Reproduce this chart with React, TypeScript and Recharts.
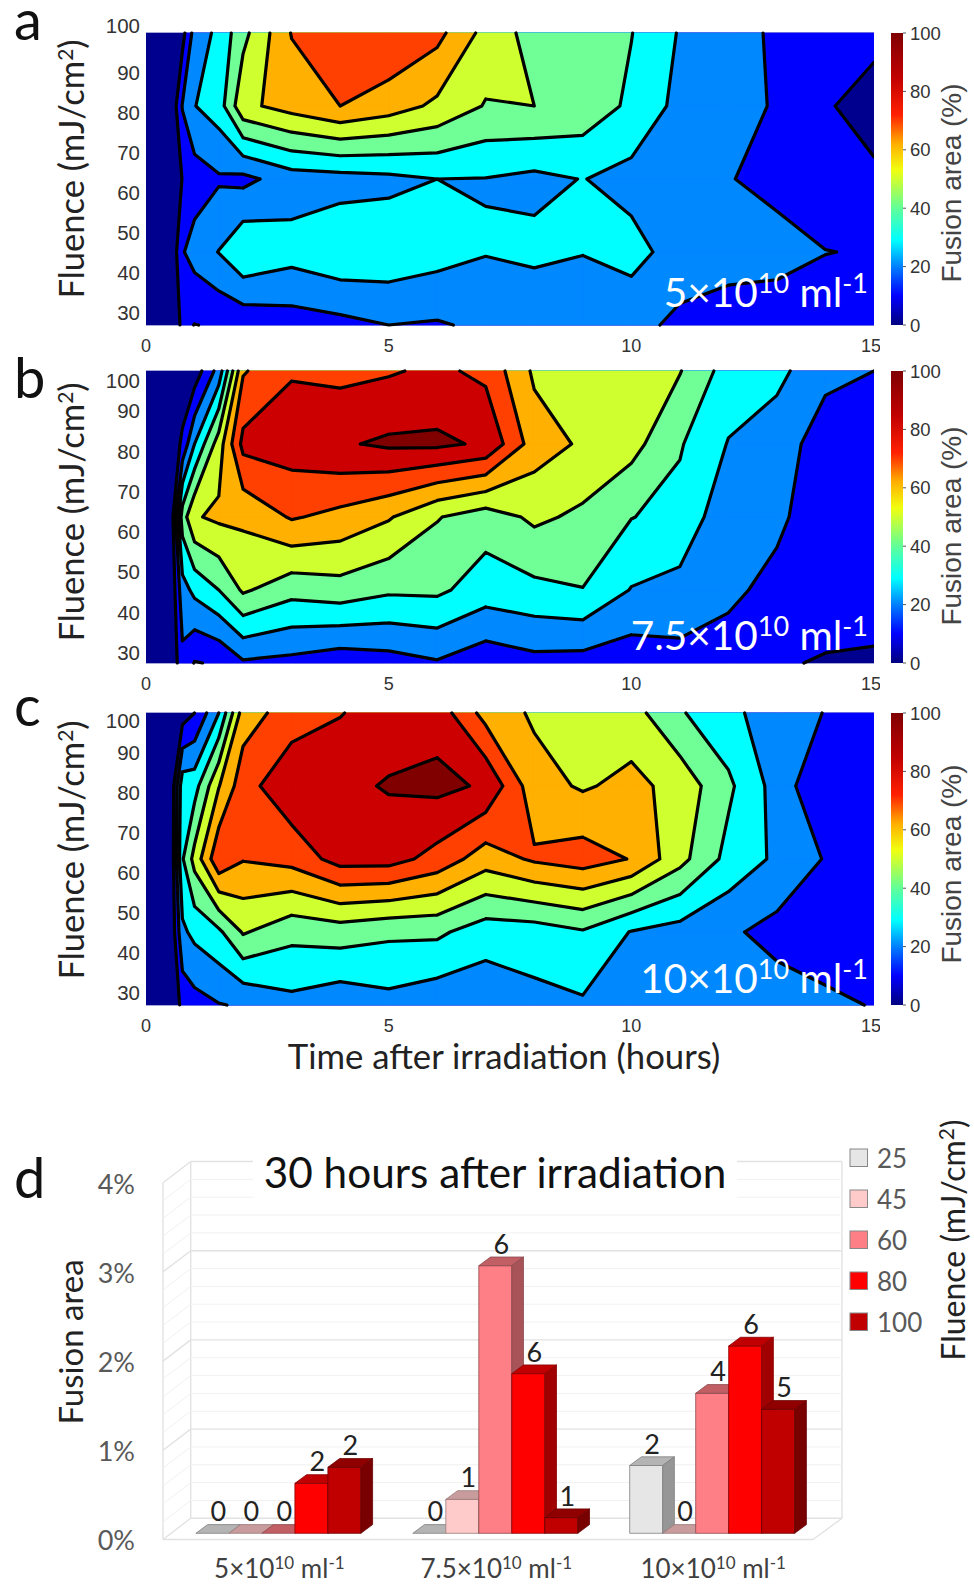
import { Bar, BarChart, CartesianGrid, LabelList, Scatter, ScatterChart, XAxis, YAxis } from "recharts";

// hours after irradiation, one column per measurement
const times = [0, 0.5, 0.75, 1, 1.5, 2, 3, 4, 5, 6, 7, 8, 9, 10, 11, 12, 13, 14, 15];
const timeTicks = [0, 5, 10, 15];
const fluenceTicks = [30, 40, 50, 60, 70, 80, 90, 100];
const fusionTicks = [0, 20, 40, 60, 80, 100];

// rows are 25, 45, 60, 80, 100 mJ/cm2, evenly spaced on the plot
const panelA = [
  [0, 0, 12.5, 9.8, 11, 12.5, 15, 17, 20, 19, 22, 21, 22, 23.6, 17.5, 14, 13.8, 12, 12],
  [0, 0, 19.2, 24, 30.3, 39.2, 34, 38, 37, 34, 30.5, 32.5, 30.4, 33.2, 26, 25, 23.8, 20.3, 19],
  [0, 0, 10.4, 15, 18.8, 17.3, 25, 26, 27.5, 30, 29.7, 27.5, 30.3, 26.7, 24, 20.5, 17, 11, 11.3],
  [0, 0, 20.6, 29.7, 35, 57.5, 64, 70, 65, 57.9, 49.3, 50, 46.5, 38, 27, 24, 19, 10.75, 7],
  [0, 0, 6.4, 24, 32.6, 47, 70.5, 78, 79, 73, 56.6, 46, 44, 40.3, 29.2, 25, 18, 15, 12],
];
const panelB = [
  [0, 0, 17.4, 9.5, 11, 18.6, 17, 13.5, 15.7, 19, 13.5, 16.8, 16, 14, 16.5, 17.8, 11, 9.2, 9.1],
  [0, 0, 26, 32.6, 40, 51.5, 43.5, 45.8, 41.7, 42, 35, 37.4, 39.7, 29.5, 26.8, 21, 18.6, 15, 13],
  [0, 0, 45, 59, 62, 62, 71, 67, 61, 50.6, 44.7, 52, 48, 40.3, 36.8, 23.2, 21, 17, 12],
  [0, 0, 12.5, 30, 55, 83, 85, 88.8, 91.7, 92, 88.5, 65, 58.5, 53.5, 40.9, 29.5, 24, 16, 12],
  [0, 0, 1, 4, 24, 69, 79.2, 77.3, 79, 82, 77.7, 58.3, 57, 54, 50.5, 35.5, 33, 22, 20],
];
const panelC = [
  [0, 0, 13, 16, 19.5, 21, 27, 23, 26.6, 23, 23, 27, 28.6, 25, 24, 24, 24.8, 21, 19.75],
  [0, 0, 28, 32.7, 38, 51, 43, 44.8, 42, 42, 34.5, 35, 39, 29.5, 26, 21.6, 16.8, 17.3, 15],
  [0, 0, 39, 53.5, 78, 70.6, 73.5, 84, 84, 76.4, 64.7, 71.5, 74.8, 69.5, 53.3, 36.8, 28.2, 19.3, 15],
  [0, 0, 36, 36, 59.5, 76, 87.4, 87.6, 90.8, 92.6, 88.7, 64, 58.8, 63, 56.3, 42, 26, 10.5, 12],
  [0, 0, 5, 10, 30, 65, 75, 79.5, 85, 85.9, 66.3, 58.5, 55, 54, 41, 33, 24, 19.7, 15],
];

const levels = [-1, 10, 20, 30, 40, 50, 60, 70, 80, 90];
const bandColors = ["#00008f", "#0000ff", "#0088ff", "#00ffff", "#70ff96", "#d0ff30", "#ffb000", "#ff4000", "#cc0000", "#800000"];

const jetStops = [
  [0, "#00007f"], [10, "#0000ff"], [20, "#0080ff"], [29, "#00ffff"], [40, "#60ff98"],
  [53, "#f0ff10"], [62, "#ffb000"], [72, "#ff2000"], [85, "#c00000"], [100, "#800000"],
] as [number, string][];

// bar chart, 30 hours after irradiation
const categories = ["5", "7.5", "10"];
const fluenceSeries = ["25", "45", "60", "80", "100"];
const area25 = [0, 0, 0.76];
const area45 = [0, 0.38, 0];
const area60 = [0, 3.0, 1.57];
const area80 = [0.56, 1.79, 2.1];
const area100 = [0.74, 0.176, 1.39];
const count25 = [0, 0, 2];
const count45 = [0, 1, 0];
const count60 = [0, 6, 4];
const count80 = [2, 6, 6];
const count100 = [2, 1, 5];
const gridValues = [0, 0.2, 0.4, 0.6, 0.8, 1, 1.2, 1.4, 1.6, 1.8, 2, 2.2, 2.4, 2.6, 2.8, 3, 3.2, 3.4, 3.6, 3.8, 4];

const barData = categories.map((c, i) => ({
  name: c,
  a25: area25[i], a45: area45[i], a60: area60[i], a80: area80[i], a100: area100[i],
  n25: count25[i], n45: count45[i], n60: count60[i], n80: count80[i], n100: count100[i],
}));

const barColors: Record<string, { front: string; top: string; side: string; edge: string }> = {
  "25": { front: "#e6e6e6", top: "#b4b4b4", side: "#969696", edge: "#808080" },
  "45": { front: "#ffcaca", top: "#c89c9c", side: "#a08080", edge: "#9a7a7a" },
  "60": { front: "#ff7f86", top: "#c25f64", side: "#a85358", edge: "#8a4a4e" },
  "80": { front: "#ff0000", top: "#c00000", side: "#a00000", edge: "#8a0000" },
  "100": { front: "#c00000", top: "#900000", side: "#780000", edge: "#6a0000" },
};

type Pt = { x: number; y: number };

// filled region >= level and contour segments, cell by cell
function contourCells(grid: number[][], level: number) {
  const pts: Pt[] = [];
  const sizes: number[] = [];
  const segs: Pt[] = [];
  for (let r = 0; r < grid.length - 1; r++) {
    for (let c = 0; c < times.length - 1; c++) {
      const corners = [
        { x: times[c], y: r, v: grid[r][c] },
        { x: times[c + 1], y: r, v: grid[r][c + 1] },
        { x: times[c + 1], y: r + 1, v: grid[r + 1][c + 1] },
        { x: times[c], y: r + 1, v: grid[r + 1][c] },
      ];
      const poly: Pt[] = [];
      const cross: Pt[] = [];
      corners.forEach((a, k) => {
        const b = corners[(k + 1) % 4];
        if (a.v >= level) poly.push({ x: a.x, y: a.y });
        if (a.v >= level !== b.v >= level) {
          const t = (level - a.v) / (b.v - a.v);
          const p = { x: a.x + (b.x - a.x) * t, y: a.y + (b.y - a.y) * t };
          poly.push(p);
          cross.push(p);
        }
      });
      if (poly.length === 0) continue;
      if (cross.length === 4) {
        const mean = (corners[0].v + corners[1].v + corners[2].v + corners[3].v) / 4;
        const cornerHigh = corners[0].v >= level ? 0 : 1;
        if (mean >= level) {
          pts.push(...poly);
          sizes.push(poly.length);
          if (cornerHigh === 0) segs.push(cross[0], cross[1], cross[2], cross[3]);
          else segs.push(cross[1], cross[2], cross[3], cross[0]);
        } else {
          // two separate corners
          const first = poly.slice(0, 3);
          const second = poly.slice(3);
          if (cornerHigh === 0) {
            pts.push(poly[0], poly[1], poly[5], poly[2], poly[3], poly[4]);
            sizes.push(3, 3);
            segs.push(cross[0], cross[3], cross[1], cross[2]);
          } else {
            pts.push(...first, ...second);
            sizes.push(3, 3);
            segs.push(cross[0], cross[1], cross[2], cross[3]);
          }
        }
      } else {
        pts.push(...poly);
        sizes.push(poly.length);
        if (cross.length === 2) segs.push(cross[0], cross[1]);
      }
    }
  }
  return { pts, sizes, segs };
}

const noDot = () => <g />;

function bandLine(sizes: number[], color: string) {
  return (props: any) => {
    const p: Pt[] = props.points;
    let d = "";
    let at = 0;
    sizes.forEach((n) => {
      d += "M" + p.slice(at, at + n).map((q) => `${q.x} ${q.y}`).join("L") + "Z";
      at += n;
    });
    return <path d={d} fill={color} stroke={color} strokeWidth={0.7} />;
  };
}

function contourLine(props: any) {
  const p: Pt[] = props.points;
  let d = "";
  for (let i = 0; i + 1 < p.length; i += 2) d += `M${p[i].x} ${p[i].y}L${p[i + 1].x} ${p[i + 1].y}`;
  return <path d={d} fill="none" stroke="#000" strokeWidth={3.2} strokeLinecap="round" />;
}

function ContourPanel({ grid, top, lo, shift100 }: { grid: number[][]; top: number; lo: number; shift100: number }) {
  const cells = levels.map((l) => contourCells(grid, l));
  const segs = cells.flatMap((c, i) => (i === 0 ? [] : c.segs));
  const fluenceTick = (p: any) => {
    const v = p.payload.value;
    return (
      <text x={p.x + 2} y={p.y + (v === 100 ? shift100 : 0)} dy={7} textAnchor="end" fontFamily="Liberation Sans" fontSize={20.5} fill="#333">
        {v}
      </text>
    );
  };
  return (
    <div style={{ position: "absolute", left: 0, top: top - 25 }}>
      <ScatterChart width={880} height={359} margin={{ top: 25, right: 6, bottom: 2, left: 96 }}>
        <XAxis
          type="number" dataKey="x" domain={[0, 15]} ticks={timeTicks} allowDataOverflow
          axisLine={false} tickLine={false} tickMargin={8} height={40}
          tick={{ fontFamily: "Liberation Sans", fontSize: 18, fill: "#333" }}
        />
        <YAxis yAxisId="grid" type="number" dataKey="y" domain={[0, 4]} hide />
        <YAxis
          yAxisId="fluence" type="number" dataKey="y" domain={[lo, 100]} ticks={fluenceTicks} interval={0} width={50}
          axisLine={false} tickLine={false} tick={fluenceTick}
        />
        {cells.map((c, i) => (
          <Scatter
            key={i} yAxisId="grid" data={c.pts} isAnimationActive={false}
            shape={noDot} line={bandLine(c.sizes, bandColors[i])}
          />
        ))}
        <Scatter yAxisId="grid" data={segs} isAnimationActive={false} shape={noDot} line={contourLine} />
        <Scatter yAxisId="fluence" data={fluenceTicks.map((t) => ({ x: 0, y: t }))} isAnimationActive={false} shape={noDot} />
      </ScatterChart>
    </div>
  );
}

function ColorBar({ id, top }: { id: string; top: number }) {
  return (
    <div style={{ position: "absolute", left: 891, top: top - 13 }}>
      <BarChart width={83} height={318} data={[{ v: 100 }]} margin={{ top: 13, right: 0, bottom: 13, left: 0 }} barCategoryGap={0}>
        <defs>
          <linearGradient id={id} x1="0" y1="1" x2="0" y2="0">
            {jetStops.map(([o, c]) => (
              <stop key={o} offset={`${o}%`} stopColor={c} />
            ))}
          </linearGradient>
        </defs>
        <XAxis hide />
        <YAxis
          orientation="right" domain={[0, 100]} ticks={fusionTicks} interval={0} width={71}
          axisLine={false} tickSize={3} tickLine={{ stroke: "#555" }} tickMargin={4}
          tick={{ fontFamily: "Liberation Sans", fontSize: 18.5, fill: "#333", textAnchor: "start" }}
        />
        <Bar dataKey="v" fill={`url(#${id})`} isAnimationActive={false} />
      </BarChart>
    </div>
  );
}

function Bar3D(props: any) {
  const { x, y, width, height, colors } = props;
  const dx = 11.7;
  const dy = 8.7;
  const c = colors;
  return (
    <g stroke={c.edge} strokeWidth={0.8} strokeLinejoin="round">
      {height > 0.5 && <rect x={x} y={y} width={width} height={height} fill={c.front} />}
      <path d={`M${x} ${y}l${dx} ${-dy}h${width}l${-dx} ${dy}Z`} fill={c.top} />
      {height > 0.5 && <path d={`M${x + width} ${y}l${dx} ${-dy}v${height}l${-dx} ${dy}Z`} fill={c.side} />}
    </g>
  );
}

const countLabel = (p: any) => (
  <text x={p.x + p.width / 2 + 6} y={p.y - 12} textAnchor="middle" fontFamily="Lato" fontSize={27} fill="#222">
    {p.value}
  </text>
);

function wallLine(p: any) {
  const major = p.index % 5 === 0;
  const color = major ? "#e2e2e2" : "#f1f1f1";
  const isFloor = Math.abs(p.y1 - 433.3) < 1;
  return (
    <g key={p.key}>
      <line x1={p.x1 + 19.8} y1={p.y1 - 15} x2={p.x2 + 20.4} y2={p.y1 - 15} stroke={color} strokeWidth={major ? 1.4 : 1} />
      <line x1={p.x1 - 7.9} y1={p.y1 + 6.2} x2={p.x1 + 19.8} y2={p.y1 - 15} stroke={color} strokeWidth={major ? 1.4 : 1} />
      {isFloor && (
        <g stroke="#e2e2e2" strokeWidth={1.4}>
          <line x1={p.x1 - 7.9} y1={p.y1 + 6.2} x2={p.x2 - 8.6} y2={p.y1 + 6.2} />
          <line x1={p.x2 - 8.6} y1={p.y1 + 6.2} x2={p.x2 + 20.4} y2={p.y1 - 15} />
          <line x1={p.x1 - 7.9} y1={p.y1 + 6.2} x2={p.x1 - 7.9} y2={p.y1 - 350.6} />
          <line x1={p.x1 + 19.8} y1={p.y1 - 15} x2={p.x1 + 19.8} y2={p.y1 - 371.8} />
          <line x1={p.x2 + 20.4} y1={p.y1 - 15} x2={p.x2 + 20.4} y2={p.y1 - 371.8} />
        </g>
      )}
    </g>
  );
}

const percentTick = (p: any) => {
  const v = p.payload.value;
  if (!Number.isInteger(v)) return <g />;
  return (
    <text x={135} y={p.y + 17} textAnchor="end" fontFamily="Lato" fontSize={27} fill="#595959">
      {v}%
    </text>
  );
};

const categoryTick = (p: any) => (
  <text x={p.x} y={p.y + 37} textAnchor="middle" fontFamily="Lato" fontSize={26} fill="#404040">
    {p.payload.value}×10
    <tspan dy={-9} fontSize={17}>10</tspan>
    <tspan dy={9}> ml</tspan>
    <tspan dy={-9} fontSize={17}>-1</tspan>
  </text>
);

function FusionBars() {
  return (
    <div style={{ position: "absolute", left: 0, top: 1100 }}>
      <BarChart
        width={974} height={485} data={barData}
        margin={{ top: 76.5, right: 152.4, bottom: 11.7, left: 110.9 }}
        barCategoryGap={25} barGap={0}
      >
        <CartesianGrid vertical={false} horizontal={wallLine} />
        <XAxis dataKey="name" height={40} axisLine={false} tickLine={false} tick={categoryTick} interval={0} />
        <YAxis domain={[0, 4]} ticks={gridValues} interval={0} width={60} axisLine={false} tickLine={false} tick={percentTick} />
        {fluenceSeries.map((s) => (
          <Bar
            key={s} dataKey={`a${s}`} isAnimationActive={false}
            shape={(p: any) => <Bar3D {...p} colors={barColors[s]} />}
          >
            <LabelList dataKey={`n${s}`} content={countLabel} />
          </Bar>
        ))}
      </BarChart>
    </div>
  );
}

const calibri = "Lato";

function Rotated({ x, y, size, family, fill, children }: any) {
  return (
    <text x={x} y={y} transform={`rotate(-90 ${x} ${y})`} textAnchor="middle" fontFamily={family} fontSize={size} fill={fill}>
      {children}
    </text>
  );
}

const fluenceTitle = (
  <>
    Fluence (mJ/cm<tspan dy={-11} fontSize={21}>2</tspan>
    <tspan dy={11}>)</tspan>
  </>
);

function Overlay() {
  const panels = [
    { letter: "a", letterY: 40, label: "5×10", labelY: 307, mid: 169 },
    { letter: "b", letterY: 398, label: "7.5×10", labelY: 650, mid: 512 },
    { letter: "c", letterY: 726, label: "10×10", labelY: 993, mid: 850 },
  ];
  return (
    <svg width={974} height={1585} style={{ position: "absolute", left: 0, top: 0, pointerEvents: "none" }}>
      {panels.map((p) => (
        <g key={p.letter}>
          <text x={14} y={p.letterY} fontFamily={calibri} fontSize={56} fill="#111">{p.letter}</text>
          <text x={868} y={p.labelY} textAnchor="end" fontFamily={calibri} fontSize={40.5} fill="#fff">
            {p.label}
            <tspan dy={-14} fontSize={27}>10</tspan>
            <tspan dy={14}> ml</tspan>
            <tspan dy={-14} fontSize={27}>-1</tspan>
          </text>
          <Rotated x={84} y={p.mid} size={34.5} family={calibri} fill="#222">{fluenceTitle}</Rotated>
          <Rotated x={961} y={p.mid + 14} size={28} family="Liberation Sans" fill="#444">Fusion area (%)</Rotated>
        </g>
      ))}
      <text x={504} y={1069} textAnchor="middle" fontFamily={calibri} fontSize={34.7} fill="#222">Time after irradiation (hours)</text>
      <text x={14} y={1198} fontFamily={calibri} fontSize={56} fill="#111">d</text>
      <rect x={253} y={1150} width={484} height={50} fill="#fff" />
      <text x={495} y={1188} textAnchor="middle" fontFamily={calibri} fontSize={42.3} fill="#111">30 hours after irradiation</text>
      <Rotated x={83} y={1342} size={33} family={calibri} fill="#222">Fusion area</Rotated>
      <Rotated x={965} y={1240} size={32} family={calibri} fill="#222">{fluenceTitle}</Rotated>
      {fluenceSeries.map((s, i) => (
        <g key={s}>
          <rect x={850} y={1149 + i * 41} width={17.5} height={17.5} fill={barColors[s].front} stroke="#888" />
          <text x={877} y={1168 + i * 41} fontFamily={calibri} fontSize={26} fill="#595959">{s}</text>
        </g>
      ))}
    </svg>
  );
}

export default function App() {
  return (
    <div style={{ position: "absolute", left: 0, top: 0, width: 974, height: 1585, background: "#fff", overflow: "hidden" }}>
      <ContourPanel grid={panelA} top={33} lo={27} shift100={-7} />
      <ContourPanel grid={panelB} top={371} lo={27.5} shift100={10} />
      <ContourPanel grid={panelC} top={713} lo={27} shift100={8} />
      <ColorBar id="jetA" top={33} />
      <ColorBar id="jetB" top={371} />
      <ColorBar id="jetC" top={713} />
      <FusionBars />
      <Overlay />
    </div>
  );
}
